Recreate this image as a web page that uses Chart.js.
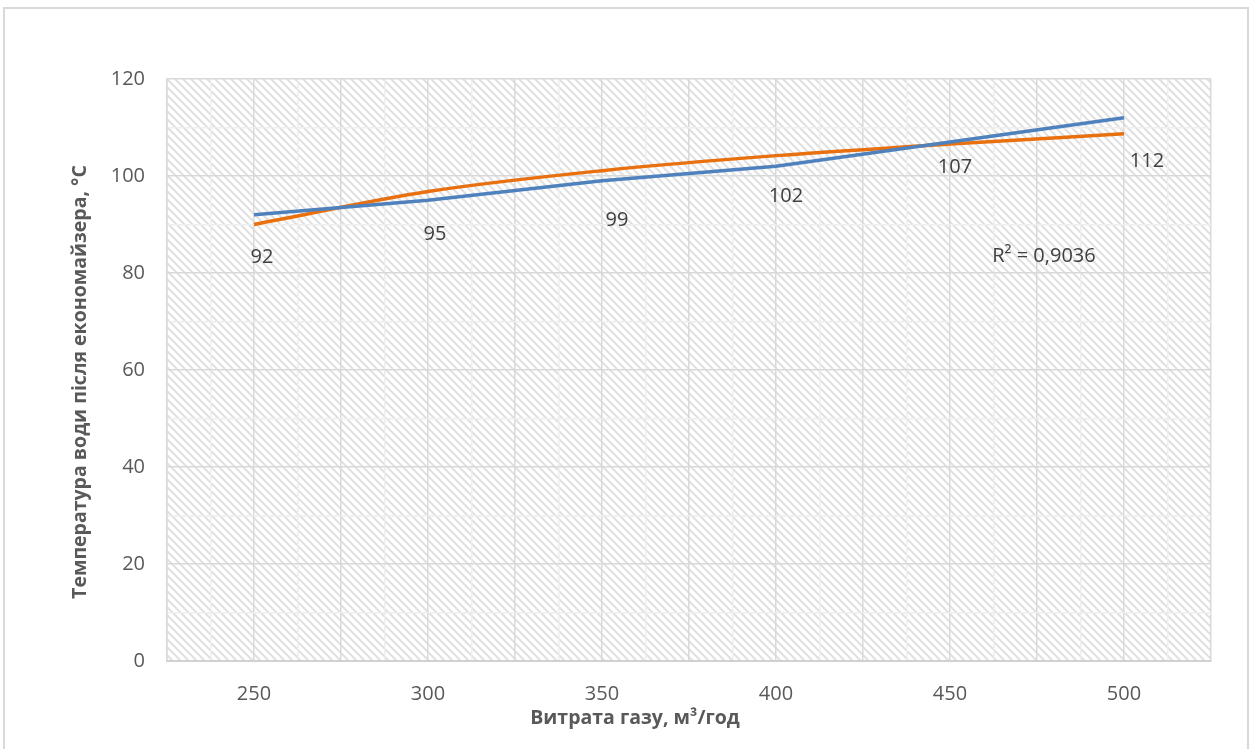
<!DOCTYPE html>
<html>
<head>
<meta charset="utf-8">
<script src="https://cdn.jsdelivr.net/npm/chart.js@4"></script>
<style>
  html, body { margin: 0; padding: 0; background: #fff; }
  #wrap { width: 1252px; height: 749px; position: relative; }
</style>
</head>
<body>
<div id="wrap"><canvas id="chart"></canvas></div>
<script>
// data
const gasFlow = [250, 300, 350, 400, 450, 500];
const waterTemp = [92, 95, 99, 102, 107, 112];
const trendTemp = [90, 96.8, 101.1, 104.2, 106.6, 108.7];
const rSquaredText = "R² = 0,9036";
const xTitle = "Витрата газу, м³/год";
const yTitle = "Температура води після економайзера, °C";

// label nudges (px) so the values sit like in the original
const labelOffsets = [[8, 42], [7, 34], [15, 39], [10, 30], [5, 25], [23, 43]];

const FONT = "'Open Sans', 'Noto Sans', sans-serif";

function makeHatch() {
  const c = document.createElement("canvas");
  c.width = 8;
  c.height = 8;
  const g = c.getContext("2d");
  g.fillStyle = "#ffffff";
  g.fillRect(0, 0, 8, 8);
  g.strokeStyle = "#e0e0e0";
  g.lineWidth = 2;
  g.beginPath();
  g.moveTo(-2, -2); g.lineTo(10, 10);
  g.moveTo(-10, -2); g.lineTo(2, 10);
  g.moveTo(6, -2); g.lineTo(18, 10);
  g.stroke();
  return c;
}

const backdrop = {
  id: "backdrop",
  beforeDraw(chart) {
    const ctx = chart.ctx;
    const a = chart.chartArea;
    ctx.save();
    ctx.fillStyle = "#fff";
    ctx.fillRect(0, 0, chart.width, chart.height);
    ctx.strokeStyle = "#d9d9d9";
    ctx.lineWidth = 2;
    ctx.strokeRect(4, 8, chart.width - 8, chart.height + 10);
    ctx.fillStyle = ctx.createPattern(makeHatch(), "repeat");
    ctx.fillRect(a.left, a.top, a.right - a.left, a.bottom - a.top);
    ctx.restore();
  },
};

const labels = {
  id: "labels",
  afterDatasetsDraw(chart) {
    const ctx = chart.ctx;
    const xs = chart.scales.x;
    const ys = chart.scales.y;
    ctx.save();
    ctx.font = "20px " + FONT;
    ctx.fillStyle = "#404040";
    ctx.textAlign = "center";
    ctx.textBaseline = "middle";
    chart.getDatasetMeta(0).data.forEach((pt, i) => {
      ctx.fillText(String(waterTemp[i]), pt.x + labelOffsets[i][0], pt.y + labelOffsets[i][1]);
    });
    ctx.fillText(rSquaredText, xs.getPixelForValue(477), ys.getPixelForValue(83.5));

    // axis titles, centred on the whole chart like Excel does
    ctx.fillStyle = "#595959";
    ctx.font = "bold 19.5px " + FONT;
    ctx.fillText(xTitle, 635, 718);
    ctx.translate(80, 382);
    ctx.rotate(-Math.PI / 2);
    ctx.fillText(yTitle, 0, 0);
    ctx.restore();
  },
};

const points = (arr) => gasFlow.map((x, i) => ({ x: x, y: arr[i] }));

new Chart(document.getElementById("chart"), {
  type: "line",
  data: {
    datasets: [
      {
        label: "Температура",
        data: points(waterTemp),
        borderColor: "#4f81bd",
        borderWidth: 3.5,
        pointRadius: 0,
        tension: 0,
      },
      {
        label: "Тренд",
        data: points(trendTemp),
        borderColor: "#e8700f",
        borderWidth: 3.5,
        pointRadius: 0,
        cubicInterpolationMode: "monotone",
      },
    ],
  },
  options: {
    responsive: true,
    maintainAspectRatio: false,
    animation: false,
    layout: { padding: { top: 79, right: 41, left: 10, bottom: 10 } },
    plugins: {
      legend: { display: false },
      tooltip: { enabled: false },
    },
    scales: {
      x: {
        type: "linear",
        min: 225,
        max: 525,
        afterFit(scale) { scale.height = 78; },
        afterBuildTicks(scale) {
          const t = [];
          for (let v = 225; v <= 525; v += 12.5) t.push({ value: v });
          scale.ticks = t;
        },
        ticks: {
          autoSkip: false,
          maxRotation: 0,
          padding: 21,
          color: "#595959",
          font: { family: FONT, size: 20 },
          callback: (v) => (v % 50 === 0 && v >= 250 && v <= 500 ? v : ""),
        },
        grid: {
          drawTicks: false,
          color: (c) => (c.tick && c.tick.value % 25 === 0 ? "#d9d9d9" : "#eeeeee"),
          lineWidth: 1.5,
        },
        border: { color: "#d0d0d0", width: 2 },
      },
      y: {
        min: 0,
        max: 120,
        afterFit(scale) { scale.width = 157; },
        ticks: {
          stepSize: 10,
          padding: 22,
          color: "#595959",
          font: { family: FONT, size: 20 },
          callback: (v) => (v % 20 === 0 ? v : ""),
        },
        grid: {
          drawTicks: false,
          color: (c) => (c.tick && c.tick.value % 20 === 0 ? "#d9d9d9" : "#eeeeee"),
          lineWidth: 1.5,
        },
        border: { color: "#d9d9d9", width: 1.5 },
      },
    },
  },
  plugins: [backdrop, labels],
});
</script>
</body>
</html>
